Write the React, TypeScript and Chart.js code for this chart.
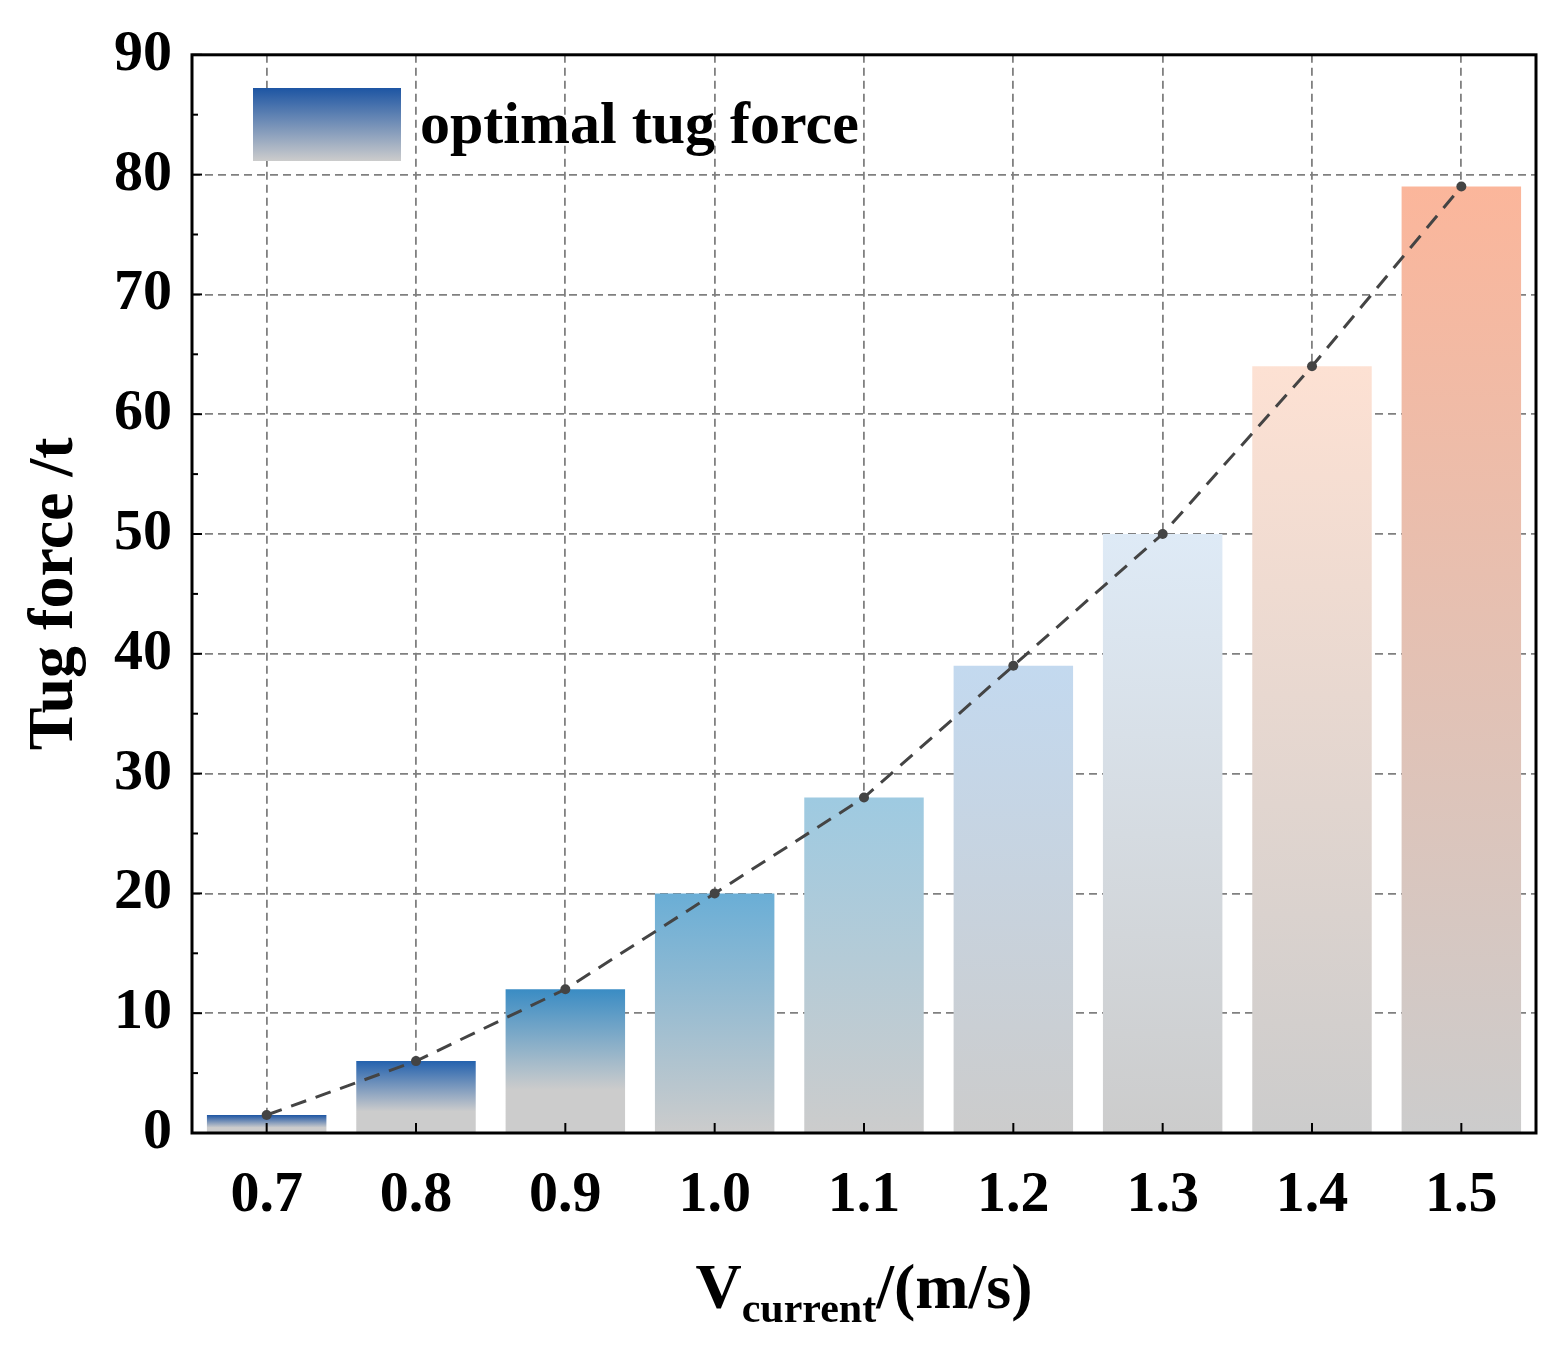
import React, { useEffect, useRef } from "react";
import { Chart, registerables } from "chart.js";
Chart.register(...registerables);

const categories = ["0.7", "0.8", "0.9", "1.0", "1.1", "1.2", "1.3", "1.4", "1.5"];
const forces = [1.5, 6, 12, 20, 28, 39, 50, 64, 79];
const topColors = ["#1d55a3", "#2462ae", "#3a8cc4", "#6aaed6", "#9ecae1", "#c3d9ef", "#deeaf6", "#fde1d3", "#fbb69b"];
const bottomColor = "#cccccc";
const FONT = "'Liberation Serif', 'Times New Roman', serif";

export default function App() {
  const ref = useRef<HTMLCanvasElement>(null);
  useEffect(() => {
    const overlay = {
      id: "overlay",
      afterDraw(chart: any) {
        const { ctx, chartArea: a, scales } = chart;
        ctx.save();
        ctx.strokeStyle = "#000";
        ctx.lineWidth = 3;
        ctx.strokeRect(a.left, a.top, a.right - a.left, a.bottom - a.top);
        ctx.lineWidth = 2;
        for (let v = 0; v <= 90; v += 5) {
          const y = scales.y.getPixelForValue(v);
          const len = v % 10 === 0 ? 10 : 6;
          ctx.beginPath(); ctx.moveTo(a.left, y); ctx.lineTo(a.left + len, y); ctx.stroke();
        }
        categories.forEach((_, i) => {
          const x = scales.x.getPixelForValue(i);
          ctx.beginPath(); ctx.moveTo(x, a.bottom); ctx.lineTo(x, a.bottom - 10); ctx.stroke();
        });
        const g = ctx.createLinearGradient(0, 88, 0, 161);
        g.addColorStop(0, topColors[0]);
        g.addColorStop(1, bottomColor);
        ctx.fillStyle = g;
        ctx.fillRect(253, 88, 148, 73);
        ctx.fillStyle = "#000";
        ctx.font = `bold 60px ${FONT}`;
        ctx.textBaseline = "middle";
        ctx.textAlign = "left";
        ctx.fillText("optimal tug force", 420, 127);
        ctx.textBaseline = "alphabetic";
        const p1 = "V", p3 = "/(m/s)";
        ctx.font = `bold 42px ${FONT}`;
        const w2 = ctx.measureText("current").width;
        ctx.font = `bold 64px ${FONT}`;
        const w1 = ctx.measureText(p1).width, w3 = ctx.measureText(p3).width;
        const x0 = (a.left + a.right) / 2 - (w1 + w2 + w3) / 2;
        ctx.fillText(p1, x0, 1308);
        ctx.font = `bold 42px ${FONT}`;
        ctx.fillText("current", x0 + w1, 1322);
        ctx.font = `bold 64px ${FONT}`;
        ctx.fillText(p3, x0 + w1 + w2, 1308);
        ctx.translate(55, (a.top + a.bottom) / 2);
        ctx.rotate(-Math.PI / 2);
        ctx.textAlign = "center";
        ctx.textBaseline = "middle";
        ctx.fillText("Tug force /t", 0, 0);
        ctx.restore();
      },
    };
    const chart = new Chart(ref.current!, {
      type: "bar",
      data: {
        labels: categories,
        datasets: [
          {
            type: "line",
            data: forces,
            borderColor: "#444",
            borderWidth: 3,
            borderDash: [16, 10],
            pointRadius: 5,
            pointBackgroundColor: "#444",
            pointBorderWidth: 0,
            order: 0,
          } as any,
          {
            type: "bar",
            data: forces,
            categoryPercentage: 0.8,
            barPercentage: 1,
            order: 1,
            backgroundColor: (c: any) => {
              const chart = c.chart;
              if (!chart.chartArea) return bottomColor;
              const y = chart.scales.y;
              const top = y.getPixelForValue(forces[c.dataIndex]);
              const bot = y.getPixelForValue(0);
              const g = chart.ctx.createLinearGradient(0, top, 0, bot);
              g.addColorStop(0, topColors[c.dataIndex]);
              g.addColorStop(c.dataIndex < 3 ? 0.7 : 1, bottomColor);
              g.addColorStop(1, bottomColor);
              return g;
            },
          },
        ],
      },
      options: {
        animation: false,
        responsive: false,
        layout: { padding: { top: 51, right: 26, left: 0, bottom: 0 } },
        plugins: { legend: { display: false }, tooltip: { enabled: false } },
        scales: {
          x: {
            grid: { color: "#808080", lineWidth: 1.8, drawTicks: false, offset: false } as any,
            border: { display: false, dash: [8, 5] },
            ticks: { color: "#000", font: { family: FONT, size: 58, weight: "bold" }, padding: 28 },
            afterFit: (s: any) => { s.height = 215; },
          },
          y: {
            min: 0, max: 90,
            grid: {
              color: (c: any) => (c.tick.value % 10 === 0 ? "#808080" : "#c0c0c0"),
              lineWidth: (c: any) => (c.tick.value % 10 === 0 ? 1.8 : 1),
              drawTicks: false,
            },
            border: { display: false, dash: [8, 5] },
            ticks: {
              stepSize: 5,
              color: "#000",
              font: { family: FONT, size: 58, weight: "bold" },
              padding: 20,
              callback: (v: any) => (v % 10 === 0 ? String(v) : ""),
            },
            afterFit: (s: any) => { s.width = 192; },
          },
        },
      },
      plugins: [overlay],
    });
    return () => chart.destroy();
  }, []);
  return (
    <div style={{ position: "fixed", left: 0, top: 0, width: 1562, height: 1348, background: "#fff" }}>
      <canvas ref={ref} width={1562} height={1348} />
    </div>
  );
}
